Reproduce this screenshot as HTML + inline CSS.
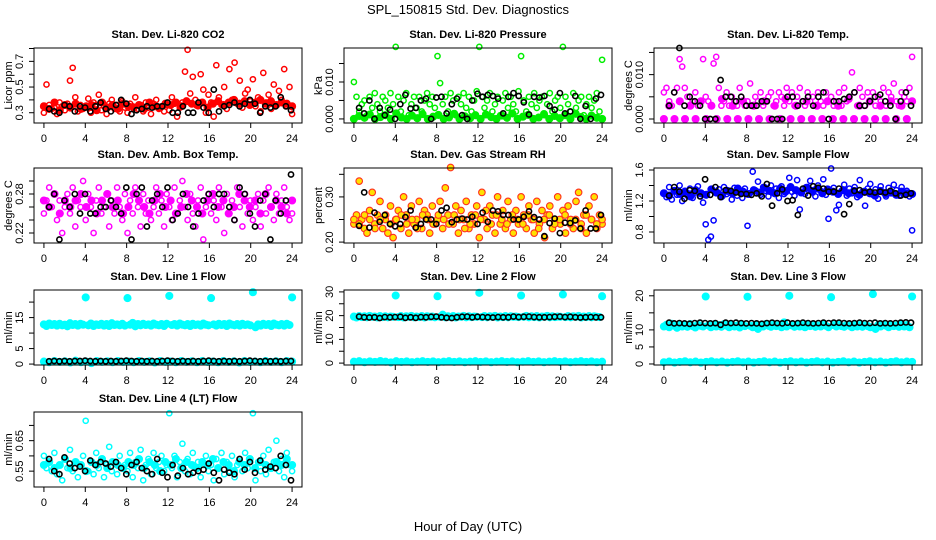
<!DOCTYPE html>
<html><head><meta charset="utf-8">
<style>
html,body{margin:0;padding:0;background:#fff;}
svg{display:block;font-family:"Liberation Sans",sans-serif;}
</style></head>
<body>
<svg id="chart" width="936" height="540" viewBox="0 0 936 540">
<text x="468" y="14" font-size="13" text-anchor="middle">SPL_150815  Std. Dev. Diagnostics</text>
<text x="468" y="531" font-size="13" text-anchor="middle">Hour of Day (UTC)</text>
</svg>
<script>
const co2Vals=[0.30,0.52,0.36,0.33,0.34,0.29,0.38,0.35,0.32,0.37,0.55,0.65,0.42,0.31,0.36,0.33,
0.34,0.41,0.30,0.38,0.36,0.44,0.32,0.35,0.29,0.37,0.40,0.33,0.36,0.31,0.39,0.34,
0.30,0.37,0.35,0.42,0.33,0.36,0.31,0.38,0.34,0.29,0.37,0.40,0.33,0.35,0.31,0.36,
0.32,0.42,0.37,0.27,0.34,0.38,0.62,0.79,0.45,0.58,0.40,0.35,0.60,0.48,0.30,0.44,
0.38,0.27,0.67,0.42,0.36,0.50,0.33,0.64,0.40,0.69,0.37,0.55,0.34,0.45,0.48,0.39,
0.56,0.35,0.42,0.31,0.61,0.38,0.44,0.33,0.52,0.36,0.47,0.40,0.64,0.35,0.50,0.29];
const co2Band=[0.35,0.33,0.38,0.32,0.36,0.34,0.37,0.33,0.35,0.36,0.32,0.38,0.34,0.36,0.33,0.37,
0.35,0.34,0.36,0.33,0.38,0.35,0.34,0.37,0.36,0.38,0.35,0.39,0.37,0.36,0.38,0.34,
0.37,0.39,0.36,0.38,0.40,0.37,0.39,0.36,0.38,0.40,0.37,0.39,0.36,0.38,0.37,0.35];
const co2Black=[0.33,0.31,0.30,0.36,0.35,0.31,0.35,0.34,0.31,0.35,0.38,0.33,0.31,0.36,0.40,0.37,
0.29,0.32,0.33,0.35,0.34,0.35,0.35,0.38,0.30,0.30,0.35,0.30,0.30,0.38,0.34,0.30,
0.48,0.31,0.35,0.36,0.38,0.35,0.37,0.40,0.37,0.30,0.35,0.34,0.35,0.42,0.35,0.32];

const presVals=[.010,.006,.002,.004,.005,.001,.006,.003,.007,.004,.002,.006,.005,.003,.007,.004,
.0195,.006,.002,.005,.007,.001,.004,.006,.003,.006,.002,.005,.007,.004,.006,.003,
.017,.0097,.004,.006,.002,.007,.005,.001,.006,.004,.007,.003,.006,.002,.005,.0075,
.0195,.006,.003,.005,.007,.002,.004,.006,.001,.005,.007,.003,.006,.004,.002,.0075,
.017,.005,.002,.006,.004,.007,.003,.005,.006,.001,.004,.007,.002,.005,.006,.003,
.0195,.006,.004,.002,.007,.003,.005,.006,.001,.004,.006,.003,.005,.007,.002,.016];
const presBand=[0,.0008,.0003,.0012,0,.0005,.001,0,.0015,.0004,0,.0009,.0002,.0013,0,.0006,
.0011,0,.0004,.0014,0,.0007,.0002,.001,0,.0012,.0005,0,.0009,.0003,.0015,0,
.0006,.0011,0,.0004,.0013,0,.0008,.0002,.001,0,.0014,.0005,0,.0009,.0003,0];
const presBlack=[.003,.0015,.005,0,.003,.001,.0025,0,.004,.0065,.0028,.003,.005,.0055,0,.0058,
.006,.0015,.004,.0055,.001,0,.005,.0068,.006,.0065,.0062,.0055,.0015,.006,.007,.0062,
.0045,.0012,.006,.0058,.0062,.0035,.0025,.007,.0015,.002,.0062,0,.0035,0,.0055,.0065];

const tempVals=[.006,.007,.004,.003,.006,.007,.0135,.0118,.007,.005,.003,.004,.006,.003,.004,.0135,
.005,.004,.003,.0125,.014,.007,.003,.004,.006,.003,.005,.004,.003,.007,.004,.003,
.004,.008,.003,.005,.004,.006,.003,.004,.005,.006,.003,.004,.006,.005,.003,.007,
.004,.006,.003,.005,.007,.004,.003,.006,.004,.005,.003,.006,.004,.003,.006,.004,
.005,.003,.004,.006,.003,.007,.004,.005,.0105,.006,.003,.007,.005,.003,.006,.004,
.006,.003,.005,.004,.007,.003,.006,.005,.008,.004,.003,.006,.005,.004,.007,.014];
const tempBand=[0,.003,0,.004,0,.003,0,.004,0,.003,0,.0045,0,.003,0,.004,
0,.003,0,.004,0,.003,0,.0045,0,.003,0,.004,0,.003,0,.004,
0,.003,0,.0045,0,.003,0,.004,0,.003,0,.004,0,.003,0,.004];
const tempBlack=[.003,.006,.016,.003,.005,.004,.003,0,0,0,.0088,.005,.005,.004,.005,.003,
.003,.003,.004,.004,0,0,0,.005,.005,.003,.004,.005,.003,.005,.006,0,
.004,.004,.0045,.005,.006,.003,.003,.004,.005,.0055,.004,.003,0,.004,.006,.003];

const ambVals=[0.25,0.27,0.29,0.26,0.28,0.24,0.27,0.22,0.26,0.28,0.25,0.29,0.23,0.27,0.26,0.30,
0.24,0.28,0.26,0.22,0.27,0.29,0.25,0.26,0.28,0.23,0.27,0.25,0.29,0.26,0.24,0.28,
0.22,0.27,0.25,0.29,0.26,0.23,0.28,0.25,0.27,0.24,0.26,0.29,0.25,0.27,0.23,0.28,
0.26,0.24,0.29,0.25,0.27,0.30,0.26,0.24,0.28,0.25,0.23,0.27,0.29,0.21,0.26,0.28,
0.25,0.27,0.24,0.29,0.26,0.22,0.28,0.25,0.27,0.24,0.29,0.26,0.23,0.28,0.25,0.27,
0.24,0.26,0.28,0.23,0.27,0.25,0.29,0.26,0.24,0.28,0.25,0.27,0.29,0.26,0.24,0.25];
const ambBand=[0.27,0.26,0.28,0.25,0.27,0.26,0.27,0.28,0.26,0.27,0.25,0.27,0.28,0.26,0.27,0.25,
0.26,0.28,0.27,0.26,0.25,0.27,0.28,0.26,0.27,0.25,0.26,0.28,0.27,0.26,0.25,0.27,
0.28,0.26,0.27,0.25,0.26,0.28,0.27,0.26,0.27,0.25,0.28,0.26,0.27,0.26,0.25,0.27];
const ambBlack=[0.26,0.28,0.21,0.27,0.26,0.28,0.25,0.28,0.25,0.25,0.26,0.26,0.27,0.26,0.25,0.29,
0.21,0.28,0.29,0.23,0.27,0.28,0.26,0.29,0.24,0.25,0.28,0.26,0.23,0.25,0.27,0.28,
0.26,0.28,0.28,0.26,0.24,0.29,0.28,0.25,0.23,0.27,0.28,0.21,0.27,0.25,0.27,0.31];

const rhVals=[0.24,0.26,0.335,0.25,0.23,0.22,0.27,0.31,0.24,0.26,0.29,0.23,0.25,0.22,0.28,0.21,
0.25,0.27,0.23,0.30,0.26,0.22,0.28,0.24,0.25,0.29,0.23,0.27,0.26,0.22,0.28,0.24,
0.25,0.29,0.23,0.32,0.26,0.365,0.24,0.28,0.22,0.27,0.25,0.29,0.23,0.26,0.24,0.28,
0.21,0.31,0.25,0.23,0.28,0.26,0.22,0.30,0.24,0.27,0.23,0.29,0.25,0.22,0.27,0.24,
0.30,0.26,0.23,0.28,0.25,0.22,0.29,0.24,0.27,0.21,0.26,0.28,0.23,0.25,0.30,0.24,
0.27,0.22,0.28,0.25,0.23,0.29,0.31,0.24,0.26,0.22,0.28,0.25,0.30,0.23,0.26,0.24];
const rhBand=[0.25,0.24,0.26,0.25,0.23,0.25,0.26,0.24,0.25,0.26,0.24,0.25,0.23,0.26,0.25,0.24,
0.26,0.25,0.24,0.26,0.25,0.23,0.24,0.26,0.25,0.27,0.24,0.26,0.25,0.24,0.26,0.25,
0.24,0.26,0.25,0.23,0.25,0.26,0.24,0.25,0.26,0.24,0.25,0.23,0.26,0.25,0.24,0.25];
const rhBlack=[0.236,0.31,0.232,0.265,0.245,0.26,0.24,0.235,0.24,0.255,0.27,0.232,0.24,0.25,0.25,0.24,
0.27,0.276,0.244,0.25,0.252,0.25,0.256,0.24,0.265,0.245,0.27,0.268,0.26,0.26,0.25,0.25,
0.256,0.268,0.255,0.25,0.213,0.242,0.252,0.22,0.243,0.242,0.248,0.23,0.27,0.23,0.23,0.26];

const flowVals=[1.30,1.25,1.38,1.22,1.34,1.28,1.40,1.20,1.33,1.27,1.36,1.24,1.31,1.39,1.26,1.18,
0.90,0.70,0.74,0.95,1.30,1.35,1.25,1.38,1.29,1.33,1.22,1.37,1.27,1.31,1.24,1.36,
0.88,1.30,1.58,1.34,1.45,1.28,1.38,1.33,1.26,1.40,1.31,1.36,1.24,1.39,1.29,1.34,
1.50,1.32,1.27,1.47,1.09,1.35,1.29,1.38,1.46,1.31,1.26,1.40,1.33,1.48,1.28,0.97,
1.62,1.37,1.08,1.15,1.33,1.41,1.27,1.36,1.30,1.38,1.25,1.47,1.32,1.14,1.36,1.42,
1.28,1.35,1.23,1.39,1.31,1.26,1.37,1.30,1.41,1.34,1.27,1.38,1.29,1.33,1.26,0.82];
const flowBand=[1.30,1.27,1.33,1.29,1.32,1.26,1.34,1.30,1.28,1.35,1.31,1.27,1.33,1.30,1.36,1.32,
1.29,1.34,1.31,1.37,1.33,1.30,1.36,1.32,1.38,1.34,1.31,1.37,1.33,1.36,1.30,1.35,
1.32,1.29,1.34,1.30,1.33,1.28,1.32,1.30,1.27,1.33,1.29,1.31,1.28,1.32,1.30,1.29];
const flowBlack=[1.27,1.38,1.32,1.23,1.34,1.33,1.26,1.48,1.28,1.38,1.25,1.34,1.33,1.31,1.29,1.29,
1.28,1.30,1.26,1.42,1.14,1.30,1.35,1.20,1.21,1.02,1.36,1.27,1.39,1.37,1.36,1.32,
1.32,1.36,1.03,1.16,1.33,1.34,1.31,1.32,1.31,1.32,1.31,1.33,1.30,1.27,1.28,1.30];

const l1Vals=[12.8,12.3,13.1,12.6,12.9,12.4,13.0,12.5,12.7,12.2,13.2,12.6,12.9,12.4,13.0,12.7,
21.5,12.5,13.1,12.3,12.8,12.6,13.0,12.4,12.9,12.3,13.2,12.6,12.8,12.5,13.0,12.4,
21.3,12.7,13.3,12.2,12.9,12.5,13.0,12.6,12.8,12.4,13.1,12.7,12.5,12.9,12.3,13.0,
22.0,12.6,12.9,12.4,13.1,12.7,12.5,12.9,12.3,13.0,12.6,12.8,12.4,13.1,12.7,12.5,
21.3,12.8,12.4,13.0,12.6,12.9,12.3,13.1,12.7,12.5,12.9,12.4,13.0,12.6,12.8,12.5,
23.2,11.9,12.8,12.4,13.0,12.6,12.9,12.3,13.1,12.7,12.5,12.9,12.4,13.0,12.6,21.5];
const l1Low=[0.8,0.6,1.0,0.7,0.9,0.5,1.1,0.6,0.8,0.3,1.0,0.7,0.9,0.6,1.0,0.7,
0.8,0.6,1.0,0.7,0.9,0.5,1.0,0.7,0.8,0.6,1.0,0.7,0.9,0.6,1.0,0.7,
0.8,0.6,1.0,0.7,0.9,0.5,1.0,0.7,0.8,0.6,1.0,0.7,0.9,0.6,1.0,0.8];
const l1Black=[0.9,1.0,0.9,1.0,0.9,1.0,1.0,1.1,1.0,0.9,1.0,0.9,1.0,0.9,1.0,1.1,
1.0,0.9,1.0,0.9,1.0,0.9,1.0,1.1,1.0,0.9,1.0,0.9,1.0,0.9,1.0,1.1,
1.0,0.9,1.0,0.9,1.0,0.9,1.0,1.1,1.0,0.9,1.0,0.9,1.0,0.9,1.0,1.0];

const l2Vals=[19.6,19.2,19.8,19.4,19.7,19.3,19.9,19.5,19.6,19.2,19.8,19.4,19.7,19.3,19.6,19.5,
28.5,19.4,19.8,19.2,19.7,19.5,19.9,19.3,19.6,19.4,19.8,19.2,19.7,19.5,19.6,19.3,
28.2,19.5,20.4,19.3,19.7,19.4,19.8,19.2,19.6,19.5,19.9,19.3,19.7,19.4,19.6,19.5,
29.6,19.4,19.8,19.3,19.7,19.5,19.9,19.2,19.6,19.4,19.8,19.3,19.7,19.5,19.6,19.4,
28.5,19.5,19.9,19.3,19.7,19.4,19.8,19.2,19.6,19.5,19.9,19.3,19.7,19.4,19.6,19.5,
28.9,19.4,19.8,19.3,19.7,19.5,19.9,19.2,19.6,19.4,19.8,19.3,19.7,19.5,19.4,28.2];
const l2Low=[0.6,0.8,0.4,0.7,0.5,0.9,0.6,0.3,0.8,0.5,0.7,0.4,0.6,0.8,0.5,0.7,
0.4,0.6,0.8,0.5,0.7,0.4,0.6,0.8,0.5,0.7,0.4,0.6,0.8,0.5,0.7,0.4,
0.6,0.8,0.5,0.7,0.4,0.6,0.8,0.5,0.7,0.4,0.6,0.8,0.5,0.7,0.4,0.6];
const l2Black=[19.6,19.3,19.2,19.3,19.0,19.4,19.3,19.4,19.5,19.1,19.3,19.1,19.4,19.3,19.5,19.6,
19.3,19.1,19.0,19.3,19.5,19.6,19.3,19.5,19.4,19.3,19.2,19.4,19.3,19.3,19.6,19.4,
19.5,19.6,19.4,19.3,19.3,19.4,19.5,19.6,19.4,19.5,19.3,19.2,19.3,19.4,19.3,19.3];

const l3Vals=[11.0,11.5,10.8,11.8,11.2,10.6,11.6,11.0,11.4,10.9,11.7,11.1,10.7,11.5,11.2,11.0,
19.8,11.3,10.8,11.6,11.0,11.4,10.9,11.7,11.2,10.8,11.5,11.0,11.3,10.7,11.6,11.1,
19.7,11.2,10.8,11.5,10.3,11.4,11.0,11.7,11.2,10.9,11.6,11.1,11.4,10.8,12.2,11.0,
20.0,11.3,10.9,11.6,11.0,11.4,10.8,11.7,11.1,11.5,10.9,11.3,11.0,11.6,11.2,10.8,
19.6,11.4,11.0,11.7,11.1,10.9,11.5,11.2,10.8,11.6,11.0,11.4,10.9,11.3,11.1,10.8,
20.5,10.3,11.4,11.0,11.6,11.2,10.8,11.5,11.1,11.3,10.9,11.6,11.0,11.4,10.8,19.8];
const l3Low=[0.5,0.7,0.4,0.6,0.8,0.5,0.7,0.4,0.6,0.8,0.5,0.7,0.4,0.6,0.8,0.5,
0.7,0.4,0.6,0.8,0.5,0.7,0.4,0.6,0.8,0.5,0.7,0.4,0.6,0.8,0.5,0.7,
0.4,0.6,0.8,0.5,0.7,0.4,0.6,0.8,0.5,0.7,0.4,0.6,0.8,0.5,0.7,0.6];
const l3Black=[12.1,11.9,12.0,11.9,11.8,12.0,12.1,12.0,11.9,12.0,11.5,12.1,12.0,12.1,12.0,11.9,
12.0,11.9,11.8,12.0,12.1,12.0,11.9,12.1,11.9,12.0,12.1,12.0,11.9,12.0,12.1,12.0,
12.1,12.1,12.0,11.9,12.0,12.1,12.0,12.0,12.1,11.9,12.0,11.9,12.0,12.1,12.2,12.1];

const l4Vals=[0.60,0.56,0.58,0.55,0.61,0.54,0.57,0.52,0.59,0.56,0.62,0.55,0.58,0.53,0.57,0.60,
0.715,0.55,0.58,0.54,0.61,0.56,0.59,0.53,0.57,0.63,0.55,0.58,0.54,0.60,0.56,0.57,
0.55,0.61,0.53,0.58,0.56,0.62,0.52,0.57,0.59,0.54,0.61,0.56,0.58,0.60,0.55,0.57,
0.74,0.56,0.60,0.53,0.58,0.64,0.55,0.59,0.54,0.61,0.56,0.58,0.53,0.57,0.60,0.55,
0.57,0.52,0.59,0.56,0.61,0.54,0.58,0.55,0.60,0.53,0.57,0.59,0.55,0.61,0.56,0.58,
0.74,0.52,0.58,0.55,0.60,0.54,0.62,0.56,0.58,0.65,0.55,0.59,0.53,0.61,0.57,0.55];
const l4Band=[0.57,0.58,0.56,0.57,0.59,0.56,0.58,0.57,0.55,0.58,0.57,0.59,0.56,0.58,0.57,0.56,
0.58,0.57,0.59,0.56,0.58,0.57,0.55,0.58,0.57,0.59,0.56,0.58,0.57,0.56,0.58,0.57,
0.59,0.56,0.58,0.57,0.55,0.58,0.57,0.59,0.56,0.58,0.57,0.56,0.58,0.57,0.59,0.57];
const l4Black=[0.59,0.55,0.54,0.595,0.575,0.56,0.565,0.55,0.585,0.57,0.58,0.575,0.565,0.58,0.56,0.54,
0.57,0.58,0.56,0.55,0.54,0.59,0.545,0.53,0.57,0.535,0.56,0.54,0.545,0.55,0.555,0.575,
0.545,0.52,0.555,0.545,0.54,0.59,0.555,0.58,0.545,0.585,0.555,0.565,0.56,0.60,0.57,0.52];

const xTicks=[0,4,8,12,16,20,24];
const lefts=[34,344,654], tops=[48,168,290,412], PW=268, PH=75;
const X0=-0.96, X1=24.96;
const RED={s:"#ff0000",f:"#ff0000",w:1.5},GRN={s:"#00ee00",f:"#00ee00",w:1.5},MAG={s:"#ff00ff",f:"#ff00ff",w:1.5},
BLU={s:"#0000ff",f:"#0000ff",w:1.5},CYN={s:"#00ffff",f:"#00ffff",w:1.5},RH={s:"#ff3020",f:"#ffe000",w:1.1};
const panels=[
 {name:"co2",title:"Stan. Dev. Li-820 CO2",ylab:"Licor ppm",c:0,r:0,ylo:0.22,yhi:0.804,ticks:[0.3,0.4,0.5,0.6,0.7,0.8],labs:["0.3","","0.5","","0.7",""],col:RED,series:[[co2Vals,0],[co2Band,1]],black:co2Black},
 {name:"pressure",title:"Stan. Dev. Li-820 Pressure",ylab:"kPa",c:1,r:0,ylo:-0.0011,yhi:0.0192,ticks:[0,0.005,0.010,0.015],labs:["0.000","","0.010",""],col:GRN,series:[[presBand,1],[presVals,0]],black:presBlack},
 {name:"temp",title:"Stan. Dev. Li-820 Temp.",ylab:"degrees C",c:2,r:0,ylo:-0.0009,yhi:0.016,ticks:[0,0.005,0.010,0.015],labs:["0.000","","0.010",""],col:MAG,series:[[tempBand,1],[tempVals,0]],black:tempBlack},
 {name:"amb-box-temp",title:"Stan. Dev. Amb. Box Temp.",ylab:"degrees C",c:0,r:1,ylo:0.2046,yhi:0.32,ticks:[0.22,0.24,0.26,0.28,0.30],labs:["0.22","","","0.28",""],col:MAG,series:[[ambVals,0],[ambBand,1]],black:ambBlack},
 {name:"gas-rh",title:"Stan. Dev. Gas Stream RH",ylab:"percent",c:1,r:1,ylo:0.198,yhi:0.364,ticks:[0.20,0.25,0.30,0.35],labs:["0.20","","0.30",""],col:RH,series:[[rhVals,1],[rhBand,1]],black:rhBlack},
 {name:"sample-flow",title:"Stan. Dev. Sample Flow",ylab:"ml/min",c:2,r:1,ylo:0.658,yhi:1.626,ticks:[0.8,1.0,1.2,1.4,1.6],labs:["0.8","","1.2","","1.6"],col:BLU,series:[[flowVals,0],[flowBand,1]],black:flowBlack},
 {name:"line1-flow",title:"Stan. Dev. Line 1 Flow",ylab:"ml/min",c:0,r:2,ylo:-0.3,yhi:23.9,ticks:[0,5,10,15,20],labs:["0","5","","15",""],col:CYN,series:[[l1Vals,1],[l1Low,1]],black:l1Black},
 {name:"line2-flow",title:"Stan. Dev. Line 2 Flow",ylab:"ml/min",c:1,r:2,ylo:-0.8,yhi:30.8,ticks:[0,5,10,15,20,25,30],labs:["0","","10","","20","","30"],col:CYN,series:[[l2Vals,1],[l2Low,1]],black:l2Black},
 {name:"line3-flow",title:"Stan. Dev. Line 3 Flow",ylab:"ml/min",c:2,r:2,ylo:-0.3,yhi:21.7,ticks:[0,5,10,15,20],labs:["0","5","10","","20"],col:CYN,series:[[l3Vals,1],[l3Low,1]],black:l3Black},
 {name:"line4-flow",title:"Stan. Dev. Line 4 (LT) Flow",ylab:"ml/min",c:0,r:3,ylo:0.498,yhi:0.744,ticks:[0.55,0.60,0.65,0.70],labs:["0.55","","0.65",""],col:CYN,series:[[l4Vals,0],[l4Band,1]],black:l4Black}
];
const NS="http://www.w3.org/2000/svg";
const svg=document.getElementById("chart");
function mk(tag,attrs,parent){const e=document.createElementNS(NS,tag);for(const k in attrs)e.setAttribute(k,attrs[k]);parent.appendChild(e);return e;}
panels.forEach(p=>{
 const L=lefts[p.c],T=tops[p.r],B=T+PH;
 const sx=h=>L+(h-X0)/(X1-X0)*PW;
 const sy=v=>B-(v-p.ylo)/(p.yhi-p.ylo)*PH;
 const g=mk("g",{},svg);
 
 
 const t=mk("text",{x:L+PW/2,y:T-10,"font-size":"11","font-weight":"bold","text-anchor":"middle"},g);
 t.textContent=p.title;
 
 
 const pts=mk("g",{},g);
 
 
 p.series.forEach(([arr,filled])=>{
  const n=arr.length;
  arr.forEach((v,i)=>{
   const c=mk("circle",{cx:sx(i*24/(n-1)).toFixed(1),cy:sy(v).toFixed(1),r:filled?3.3:2.6,fill:filled?p.col.f:"none",stroke:p.col.s,"stroke-width":p.col.w},pts);
   
   
  });
 });
 const bn=p.black.length;
 p.black.forEach((v,i)=>{
  const c=mk("circle",{cx:sx(0.5+i*23.4/(bn-1)).toFixed(1),cy:sy(v).toFixed(1),r:2.6,fill:"none",stroke:"#000","stroke-width":1.6},pts);
  
  
 });
 const box=mk("rect",{x:L,y:T,width:PW,height:PH,fill:"none",stroke:"#000","stroke-width":1},g);
 
 
 const xa=mk("g",{},g);
 
 
 mk("line",{x1:sx(xTicks[0]),x2:sx(xTicks[xTicks.length-1]),y1:B,y2:B,stroke:"#000"},xa);
 xTicks.forEach(h=>{
  mk("line",{x1:sx(h),x2:sx(h),y1:B,y2:B+5,stroke:"#000"},xa);
  const tx=mk("text",{x:sx(h),y:B+19,"font-size":"11","text-anchor":"middle"},xa);
  tx.textContent=String(h);
 });
 const ya=mk("g",{},g);
 
 
 mk("line",{x1:L,x2:L,y1:sy(p.ticks[0]),y2:sy(p.ticks[p.ticks.length-1]),stroke:"#000"},ya);
 p.ticks.forEach((v,i)=>{
  const y=sy(v);
  mk("line",{x1:L-5,x2:L,y1:y,y2:y,stroke:"#000"},ya);
  if(p.labs[i]){
   const ty=mk("text",{x:L-11,y:y,"font-size":"11","text-anchor":"middle",transform:`rotate(-90 ${L-11} ${y})`},ya);
   ty.textContent=p.labs[i];
  }
 });
 const yl=mk("text",{x:L-22,y:T+PH/2,"font-size":"11","text-anchor":"middle",transform:`rotate(-90 ${L-22} ${T+PH/2})`},g);
 yl.textContent=p.ylab;
 
 
});
</script>
</body></html>
